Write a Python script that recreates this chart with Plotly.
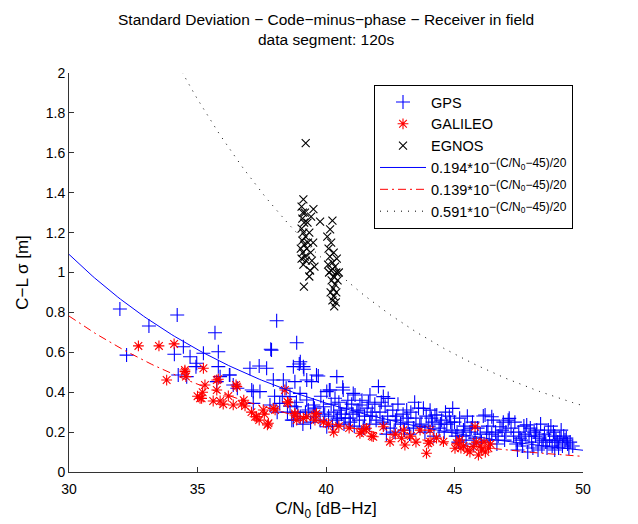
import numpy as np
import plotly.graph_objects as go

# ---------------- data ----------------
gps_cn0 = [
    31.98, 32.24, 33.11, 34.21, 34.10, 34.45, 34.71, 34.25, 34.58, 34.97,
    35.23, 35.68, 35.81, 35.81, 35.75, 36.24, 36.39, 37.04, 37.40, 37.69,
    37.85, 38.08, 38.86, 38.73, 38.96, 39.12, 39.70, 39.25, 37.95, 37.17,
    37.43, 38.73, 34.94, 35.88, 36.26, 36.55, 37.11, 38.34, 38.79, 38.60,
    37.17, 37.82, 38.20, 38.99, 39.25, 40.03, 38.67, 39.00, 39.51, 39.77,
    40.03, 38.79, 39.51, 39.90, 39.31, 39.00, 39.14, 39.63, 39.44, 37.88,
    38.10, 38.30, 38.50, 38.00, 38.45, 38.90, 39.10, 39.40, 39.60, 39.80,
    40.42, 40.16, 40.67, 41.06, 41.71, 42.04, 42.23, 42.42, 41.32, 40.13,
    40.65, 41.13, 40.20, 40.30, 40.40, 40.50, 40.60, 40.70, 40.80, 40.90,
    41.00, 41.10, 41.20, 41.30, 41.40, 41.50, 41.60, 41.70, 41.80, 41.90,
    40.10, 40.25, 40.55, 40.85, 41.05, 41.45, 41.65, 41.95, 40.35, 40.75,
    42.10, 42.20, 42.30, 42.40, 42.50, 42.60, 42.70, 42.80, 42.90, 43.00,
    43.14, 43.20, 43.30, 43.40, 43.50, 43.60, 43.79, 43.70, 43.90, 44.00,
    44.10, 44.24, 44.31, 44.40, 44.50, 44.60, 44.70, 44.93, 44.80, 44.90,
    42.15, 42.65, 43.05, 43.45, 43.85, 44.20, 44.65, 42.35, 43.25, 44.05,
    45.00, 45.10, 45.20, 45.30, 45.40, 45.50, 45.60, 45.70, 45.80, 45.90,
    46.00, 46.12, 46.19, 46.30, 46.45, 46.51, 46.60, 46.70, 46.77, 46.90,
    47.00, 47.09, 47.13, 45.15, 45.45, 45.75, 46.05, 46.35, 46.65, 46.95,
    47.20, 47.30, 47.40, 47.50, 47.60, 47.70, 47.81, 47.90, 48.00, 48.10,
    48.20, 48.30, 48.40, 48.50, 48.65, 48.70, 48.80, 48.90, 49.00, 49.10,
    49.20, 49.30, 49.40, 49.50, 49.60, 47.45, 47.85, 48.25, 48.60, 49.05,
    47.65, 48.05, 48.45, 48.85, 49.25, 47.95, 48.35, 48.75, 49.15, 47.35,
    38.60, 38.85, 39.20, 39.55, 39.95, 40.45, 40.95, 41.25, 41.75, 42.25,
    42.75, 43.15, 43.65, 44.15, 44.45, 44.85, 45.35, 45.65, 46.25, 46.85,
    47.55, 48.15, 48.55, 48.95, 49.35, 49.45, 47.75, 48.90, 46.45, 45.05,
]
gps_std = [
    0.817, 0.586, 0.732, 0.787, 0.590, 0.628, 0.578, 0.486, 0.478, 0.545,
    0.595, 0.698, 0.603, 0.528, 0.453, 0.486, 0.436, 0.520, 0.531, 0.520,
    0.615, 0.758, 0.648, 0.528, 0.541, 0.528, 0.481, 0.461, 0.461, 0.403,
    0.403, 0.260, 0.528, 0.478, 0.486, 0.420, 0.411, 0.461, 0.453, 0.378,
    0.344, 0.336, 0.344, 0.394, 0.361, 0.403, 0.260, 0.278, 0.277, 0.260,
    0.227, 0.327, 0.336, 0.327, 0.311, 0.553, 0.515, 0.486, 0.453, 0.611,
    0.300, 0.380, 0.300, 0.380, 0.420, 0.300, 0.240, 0.250, 0.300, 0.380,
    0.478, 0.411, 0.411, 0.394, 0.386, 0.428, 0.378, 0.369, 0.336, 0.411,
    0.425, 0.386, 0.340, 0.300, 0.260, 0.350, 0.290, 0.240, 0.320, 0.270,
    0.340, 0.230, 0.300, 0.260, 0.360, 0.280, 0.320, 0.240, 0.300, 0.340,
    0.280, 0.230, 0.310, 0.360, 0.290, 0.220, 0.350, 0.260, 0.370, 0.270,
    0.300, 0.250, 0.330, 0.280, 0.220, 0.310, 0.260, 0.340, 0.240, 0.290,
    0.311, 0.250, 0.300, 0.220, 0.270, 0.320, 0.319, 0.240, 0.280, 0.230,
    0.270, 0.286, 0.286, 0.220, 0.260, 0.200, 0.240, 0.319, 0.280, 0.210,
    0.350, 0.200, 0.210, 0.350, 0.200, 0.180, 0.300, 0.190, 0.190, 0.310,
    0.250, 0.200, 0.270, 0.180, 0.230, 0.280, 0.200, 0.250, 0.170, 0.220,
    0.190, 0.281, 0.286, 0.230, 0.277, 0.260, 0.200, 0.180, 0.227, 0.250,
    0.200, 0.260, 0.269, 0.150, 0.160, 0.140, 0.150, 0.160, 0.140, 0.160,
    0.220, 0.180, 0.140, 0.200, 0.160, 0.230, 0.236, 0.180, 0.150, 0.200,
    0.210, 0.170, 0.130, 0.190, 0.210, 0.160, 0.130, 0.180, 0.150, 0.170,
    0.130, 0.160, 0.140, 0.150, 0.130, 0.110, 0.100, 0.110, 0.120, 0.120,
    0.130, 0.120, 0.160, 0.200, 0.180, 0.220, 0.240, 0.230, 0.210, 0.250,
    0.330, 0.350, 0.300, 0.320, 0.290, 0.270, 0.250, 0.310, 0.280, 0.240,
    0.280, 0.270, 0.230, 0.250, 0.240, 0.250, 0.210, 0.220, 0.200, 0.210,
    0.170, 0.180, 0.150, 0.160, 0.170, 0.120, 0.190, 0.110, 0.190, 0.180,
]

galileo_cn0 = [
    32.70, 33.50, 34.09, 33.80, 34.51, 34.55, 35.23, 35.29, 35.75, 35.81,
    35.10, 35.61, 35.88, 36.20, 36.53, 36.39, 36.72, 37.30, 37.56, 37.76,
    37.95, 38.53, 38.79, 39.25, 39.57, 39.63, 34.51, 35.16, 35.75, 36.50,
    36.85, 37.24, 37.72, 38.02, 38.40, 38.50, 38.79, 38.86, 39.12, 39.57,
    41.39, 41.58, 41.78, 42.23, 42.49, 43.01, 42.94, 43.07, 43.66, 44.05,
    43.98, 43.91, 44.57, 45.09, 45.02, 45.73, 46.06, 45.93, 46.32, 45.80,
    41.52, 41.32, 41.84, 44.05, 40.10, 40.50, 40.90, 43.30, 43.50, 44.30,
    45.20, 45.35, 45.60, 45.85, 46.00, 46.20, 46.40, 45.50, 46.15, 45.25,
    37.10, 37.40, 36.00, 35.20, 35.00, 36.80, 37.60, 39.90, 40.30, 42.70,
]
galileo_std = [
    0.632, 0.632, 0.642, 0.461, 0.511, 0.478, 0.520, 0.436, 0.411, 0.465,
    0.369, 0.356, 0.356, 0.381, 0.428, 0.336, 0.341, 0.277, 0.311, 0.244,
    0.319, 0.347, 0.294, 0.277, 0.260, 0.294, 0.503, 0.369, 0.461, 0.436,
    0.331, 0.277, 0.236, 0.311, 0.411, 0.352, 0.286, 0.260, 0.269, 0.286,
    0.202, 0.219, 0.180, 0.227, 0.152, 0.210, 0.169, 0.135, 0.210, 0.210,
    0.144, 0.094, 0.152, 0.144, 0.119, 0.127, 0.110, 0.085, 0.119, 0.227,
    0.214, 0.194, 0.177, 0.152, 0.240, 0.230, 0.220, 0.180, 0.150, 0.170,
    0.160, 0.130, 0.100, 0.150, 0.130, 0.100, 0.140, 0.110, 0.150, 0.120,
    0.300, 0.260, 0.340, 0.400, 0.380, 0.360, 0.290, 0.250, 0.200, 0.190,
]

egnos_cn0 = [
    39.21, 39.12, 39.51, 39.77, 39.14, 39.05, 39.10, 39.08, 39.15, 39.05,
    39.12, 39.20, 39.08, 39.15, 39.25, 39.10, 39.18, 39.05, 39.22, 39.12,
    39.30, 39.35, 39.40, 39.45, 39.38, 39.50, 39.28, 39.42, 39.55, 39.35,
    39.02, 39.18,
    40.25, 40.16, 40.05, 40.20, 40.10, 40.30, 40.15, 40.25, 40.35, 40.20,
    40.40, 40.30, 40.22, 40.35, 40.28, 40.40, 40.30, 40.25, 40.38, 40.32,
    40.45, 40.50, 40.12, 40.42, 40.18, 40.08,
]
egnos_std = [
    1.648, 1.367, 1.318, 1.255, 0.929, 1.330, 1.300, 1.270, 1.250, 1.220,
    1.200, 1.180, 1.160, 1.140, 1.120, 1.100, 1.080, 1.070, 1.060, 1.040,
    1.150, 1.200, 1.100, 1.060, 1.010, 1.150, 1.250, 1.280, 1.030, 0.980,
    1.120, 1.300,
    1.260, 1.216, 1.180, 1.150, 1.120, 1.100, 1.080, 1.050, 1.030, 1.010,
    1.000, 0.980, 0.960, 0.940, 0.920, 0.900, 0.880, 0.860, 0.850, 0.830,
    0.960, 1.000, 1.000, 1.070, 0.900, 1.040,
]

# fit model coefficients: a * 10^(-(C/N0 - 45)/20)
fit_coeffs = [0.194, 0.139, 0.591]
fit_labels = ["0.194", "0.139", "0.591"]
fit_ref_cn0 = 45
cn0_grid = np.linspace(30, 50, 201)

series_names = ["GPS", "GALILEO", "EGNOS"]
x_ticks = [30, 35, 40, 45, 50]
y_ticks = [0, 0.2, 0.4, 0.6, 0.8, 1, 1.2, 1.4, 1.6, 1.8, 2]
y_ticklabels = ["0", "0.2", "0.4", "0.6", "0.8", "1", "1.2", "1.4", "1.6", "1.8", "2"]

# ---------------- figure ----------------
FONT = "Liberation Sans, Arial, Helvetica, sans-serif"
fig = go.Figure()

fig.add_trace(go.Scatter(
    x=gps_cn0, y=gps_std, mode="markers", name=series_names[0],
    marker=dict(symbol="cross-thin", size=10, line=dict(color="#0000ff", width=1.1), color="#0000ff"),
))
fig.add_trace(go.Scatter(
    x=galileo_cn0, y=galileo_std, mode="markers", name=series_names[1],
    marker=dict(symbol="asterisk-open", size=9, line=dict(color="#ff0000", width=1.1), color="#ff0000"),
))
fig.add_trace(go.Scatter(
    x=egnos_cn0, y=egnos_std, mode="markers", name=series_names[2],
    marker=dict(symbol="x-thin-open", size=8, line=dict(color="#000000", width=1.1), color="#000000"),
))

line_styles = [
    dict(color="#0000ff", width=1, dash="solid"),
    dict(color="#ff0000", width=1, dash="8px,4px,2px,4px"),
    dict(color="#000000", width=1, dash="1px,6px"),
]
for coef, lab, ls in zip(fit_coeffs, fit_labels, line_styles):
    yfit = coef * 10 ** (-(cn0_grid - fit_ref_cn0) / 20)
    fig.add_trace(go.Scatter(
        x=cn0_grid, y=yfit, mode="lines", line=ls,
        name=(f"{lab}*10<sup><span style='font-size:12px'>−(C/N<sub>0</sub>−45)/20</span></sup>"),
    ))

axis_common = dict(
    showgrid=False, zeroline=False, showline=True, linecolor="#333333", linewidth=1,
    ticks="inside", ticklen=5, tickcolor="#333333", mirror=False,
    tickfont=dict(family=FONT, size=14, color="black"),
)

# page body has an 8px default margin; margins below compensate for it
fig.update_layout(
    width=638, height=524,
    margin=dict(l=61, r=63, t=65, b=60),
    paper_bgcolor="white", plot_bgcolor="white",
    font=dict(family=FONT, color="black"),
    xaxis=dict(range=[30, 50], tickvals=x_ticks, ticklabelstandoff=4,
               title=dict(text="C/N<sub>0</sub> [dB−Hz]", font=dict(family=FONT, size=17), standoff=6),
               **axis_common),
    yaxis=dict(range=[0, 2], tickvals=y_ticks, ticktext=y_ticklabels,
               title=dict(text="C−L σ [m]", font=dict(family=FONT, size=17), standoff=12),
               **axis_common),
    legend=dict(
        x=(374 - 69) / 514, y=(472 - 85) / 399, xanchor="left", yanchor="top",
        bgcolor="white", bordercolor="black", borderwidth=1,
        font=dict(family=FONT, size=14.5, color="black"),
        tracegroupgap=0, itemwidth=46,
    ),
    showlegend=True,
    annotations=[
        dict(text="Standard Deviation − Code−minus−phase − Receiver in field",
             xref="paper", yref="paper", x=0.5, y=1, xanchor="center", yanchor="middle",
             yshift=54, showarrow=False, font=dict(family=FONT, size=15.5, color="black")),
        dict(text="data segment: 120s",
             xref="paper", yref="paper", x=0.5, y=1, xanchor="center", yanchor="middle",
             yshift=34, showarrow=False, font=dict(family=FONT, size=15.5, color="black")),
    ],
)

fig.write_html("out.html")
